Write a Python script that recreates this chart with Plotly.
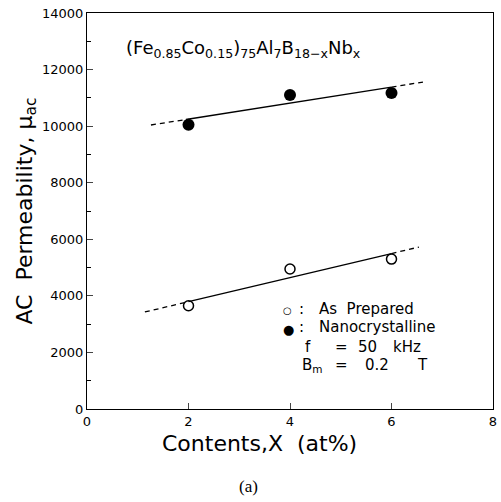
import plotly.graph_objects as go

# data
x_vals = [2, 4, 6]
as_prepared = [3650, 4950, 5300]
nanocrystalline = [10050, 11100, 11170]

# fitted lines: dashed ends, solid middle
nano_fit_x = [1.26, 1.95, 6.0, 6.62]
nano_fit_y = [10040, 10235, 11380, 11560]
asp_fit_x = [1.14, 2.0, 6.0, 6.54]
asp_fit_y = [3430, 3795, 5495, 5725]

x_ticks = [0, 2, 4, 6, 8]
y_ticks = [0, 2000, 4000, 6000, 8000, 10000, 12000, 14000]
y_tick_text = ["0", "2000", "4000", "6000", "8000", "10000", "12000", "14000"]

FONT = "DejaVu Sans"
fig = go.Figure()

for fx, fy in [(nano_fit_x, nano_fit_y), (asp_fit_x, asp_fit_y)]:
    fig.add_trace(go.Scatter(x=fx[0:2], y=fy[0:2], mode="lines",
                             line=dict(color="black", width=1.3, dash="5px,4px"), showlegend=False))
    fig.add_trace(go.Scatter(x=fx[1:3], y=fy[1:3], mode="lines",
                             line=dict(color="black", width=1.3), showlegend=False))
    fig.add_trace(go.Scatter(x=fx[2:4], y=fy[2:4], mode="lines",
                             line=dict(color="black", width=1.3, dash="5px,4px"), showlegend=False))

fig.add_trace(go.Scatter(x=x_vals, y=nanocrystalline, mode="markers",
                         marker=dict(symbol="circle", size=12, color="black"), showlegend=False))
fig.add_trace(go.Scatter(x=x_vals, y=as_prepared, mode="markers",
                         marker=dict(symbol="circle-open", size=10, color="black", line=dict(width=1.5)),
                         showlegend=False))

fig.update_layout(
    width=501, height=502,
    margin=dict(l=87, r=4, t=13, b=93),
    paper_bgcolor="white", plot_bgcolor="white",
    font=dict(family=FONT, color="black", size=13),
    xaxis=dict(range=[0, 8], tickvals=x_ticks, ticks="inside", ticklen=6, tickwidth=1,
               showline=True, linecolor="black", linewidth=1.2, mirror=True, showgrid=False,
               zeroline=False, tickfont=dict(size=13), ticklabeloverflow="allow"),
    yaxis=dict(range=[0, 14000], tickvals=y_ticks, ticktext=y_tick_text, ticks="inside",
               ticklen=6, tickwidth=1,
               showline=True, linecolor="black", linewidth=1.2, mirror=True, showgrid=False,
               zeroline=False, tickfont=dict(size=13),
               minor=dict(dtick=1000, ticks="inside", ticklen=4, tickcolor="black")),
    showlegend=False,
)

NB = "&nbsp;"
# (text, x_px, y_px, size, anchor)
ann = [
    ("(Fe<sub>0.85</sub>Co<sub>0.15</sub>)<sub>75</sub>Al<sub>7</sub>B<sub>18\u2212x</sub>Nb<sub>x</sub>",
     124, 49, 18, "left"),
    ("\u25cb", 289, 310, 10, "center"),
    (":", 304, 309, 15, "center"),
    ("As" + NB * 2 + "Prepared", 319, 309, 15, "left"),
    ("\u25cf", 290, 329, 13, "center"),
    (":", 304, 327, 15, "center"),
    ("Nanocrystalline", 319, 327, 15, "left"),
    ("f", 305, 347, 15, "left"),
    ("=", 335, 347, 15, "left"),
    ("50", 359, 347, 15, "left"),
    ("kHz", 394, 347, 15, "left"),
    ("B<sub>m</sub>", 302, 365, 15, "left"),
    ("=", 335, 365, 15, "left"),
    ("0.2", 366, 365, 15, "left"),
    ("T", 418, 365, 15, "left"),
]
for text, xp, yp, size, anchor in ann:
    fig.add_annotation(text=text, xref="paper", yref="paper",
                       x=(xp - 87) / 410, y=(409 - yp) / 396,
                       xanchor=anchor, yanchor="middle", showarrow=False, font=dict(size=size))

fig.add_annotation(text="Contents,X&nbsp;&nbsp;(at%)", xref="paper", yref="paper",
                   x=(261 - 87) / 410, y=(409 - 443) / 396, xanchor="center", yanchor="middle",
                   showarrow=False, font=dict(size=22))
fig.add_annotation(text="AC&nbsp;&nbsp;Permeability,&nbsp;\u03bc<sub>ac</sub>", xref="paper", yref="paper",
                   x=(25 - 87) / 410, y=(409 - 211) / 396, xanchor="center", yanchor="middle",
                   textangle=-90, showarrow=False, font=dict(size=22))
fig.add_annotation(text="(a)", xref="paper", yref="paper",
                   x=(250 - 87) / 410, y=(409 - 486) / 396, xanchor="center", yanchor="middle",
                   showarrow=False, font=dict(size=17, family="Liberation Serif"))

fig.write_html("out.html")
